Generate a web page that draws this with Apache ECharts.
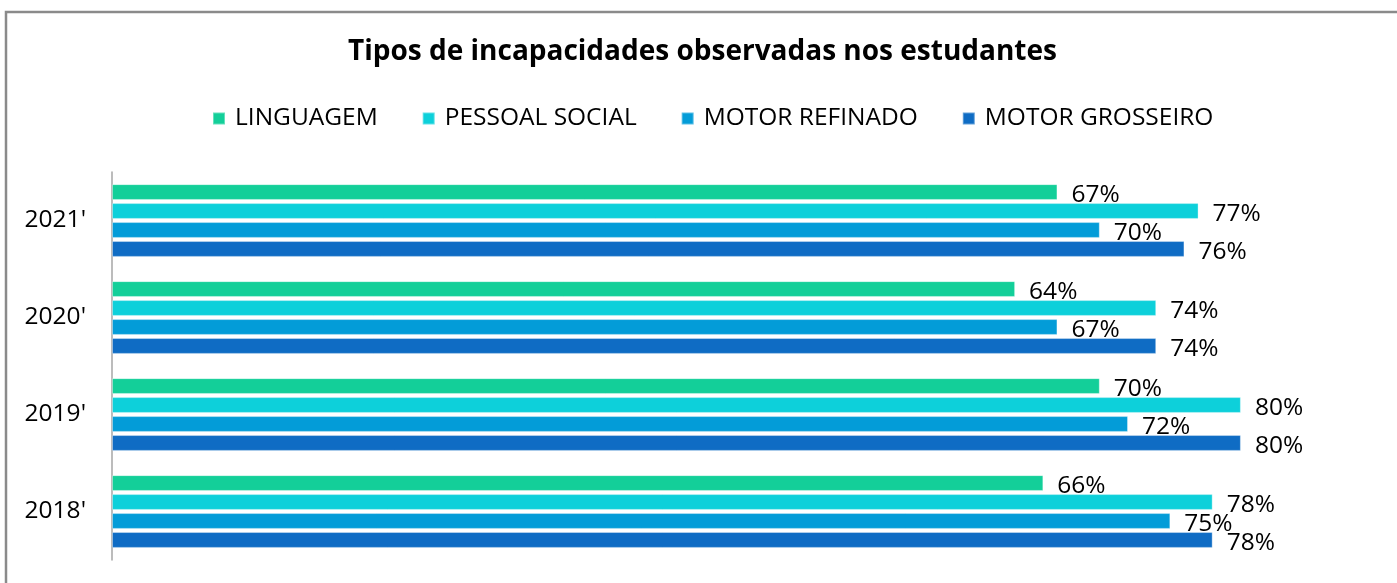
<!DOCTYPE html>
<html>
<head>
<meta charset="utf-8">
<script src="https://cdn.jsdelivr.net/npm/echarts@6/dist/echarts.min.js"></script>
<style>
html,body{margin:0;padding:0;background:#fff;}
#c{width:1397px;height:583px;}
</style>
</head>
<body>
<div id="c"></div>
<script>
const categories = ["2021'", "2020'", "2019'", "2018'"];
const seriesNames = ["LINGUAGEM", "PESSOAL SOCIAL", "MOTOR REFINADO", "MOTOR GROSSEIRO"];
const linguagem = [0.67, 0.64, 0.70, 0.66];
const pessoalSocial = [0.77, 0.74, 0.80, 0.78];
const motorRefinado = [0.70, 0.67, 0.72, 0.75];
const motorGrosseiro = [0.76, 0.74, 0.80, 0.78];
const colors = ['#13CF99', '#0DD0DA', '#039CD8', '#0F6CC4'];

const values = [linguagem, pessoalSocial, motorRefinado, motorGrosseiro];
const FONT = 'Open Sans';

const chart = echarts.init(document.getElementById('c'), null, {renderer: 'canvas'});
chart.setOption({
  animation: false,
  textStyle: {fontFamily: FONT},
  title: {
    text: 'Tipos de incapacidades observadas nos estudantes',
    left: 348, top: 38,
    padding: 0,
    textStyle: {fontFamily: FONT, fontSize: 28, fontWeight: 'bold', color: '#000'}
  },
  legend: {
    data: seriesNames,
    top: 101, left: 207,
    itemWidth: 12, itemHeight: 12, itemGap: 44,
    icon: 'rect',
    textStyle: {fontFamily: FONT, fontSize: 24.5, color: '#000', padding: [0,0,0,5]}
  },
  grid: {left: 112, right: 15, top: 172, bottom: 23, containLabel: false},
  xAxis: {
    type: 'value', min: 0, max: 0.9, show: false
  },
  yAxis: {
    type: 'category', data: categories, inverse: true,
    axisLine: {show: true, lineStyle: {color: '#a6a6a6', width: 1.5}},
    axisTick: {show: false},
    axisLabel: {fontFamily: FONT, fontSize: 24.5, color: '#000', margin: 26}
  },
  graphic: [{
    type: 'rect', silent: true,
    shape: {x: 6, y: 12, width: 1600, height: 800},
    style: {fill: 'none', stroke: '#8a8a8a', lineWidth: 2.5}
  }],
  series: seriesNames.map((n, i) => ({
    name: n, type: 'bar',
    data: values[i],
    barGap: '20%', barCategoryGap: '25%',
    itemStyle: {color: colors[i], borderColor: 'rgba(255,255,255,0.35)', borderWidth: 1},
    label: {
      show: true, position: 'right', distance: 14, offset: [0, 3],
      fontFamily: FONT, fontSize: 24.5, color: '#000',
      formatter: p => Math.round(p.value * 100) + '%'
    }
  }))
});
</script>
</body>
</html>
